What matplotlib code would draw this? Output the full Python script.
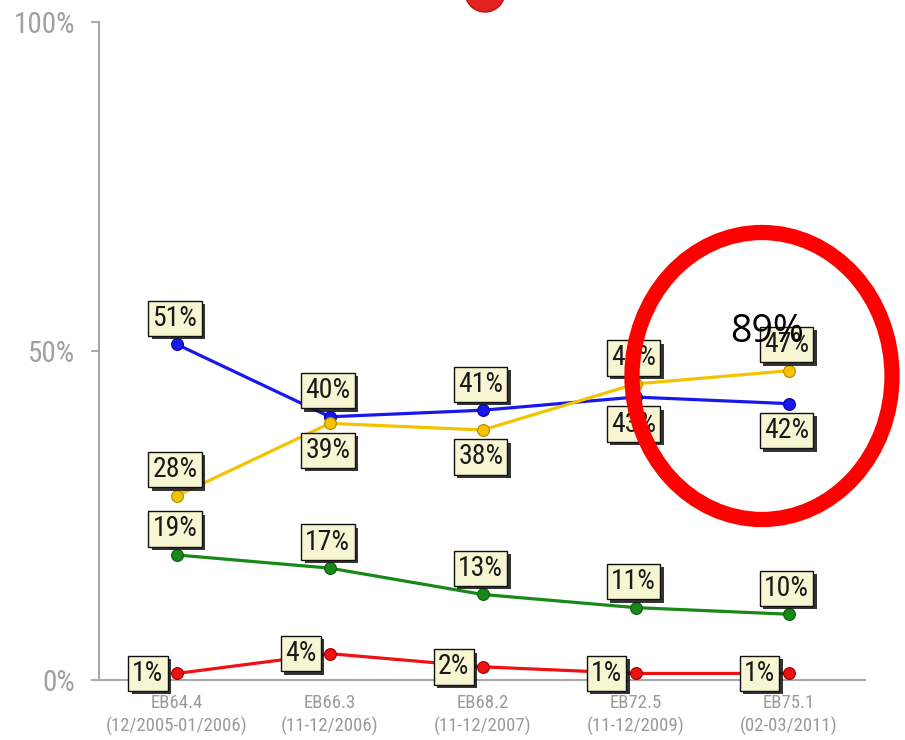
import matplotlib
matplotlib.use("Agg")
import matplotlib.pyplot as plt
from matplotlib.patches import Ellipse
import matplotlib.patheffects as pe
from matplotlib import font_manager as fm

categories = ["EB64.4\n(12/2005-01/2006)", "EB66.3\n(11-12/2006)", "EB68.2\n(11-12/2007)",
              "EB72.5\n(11-12/2009)", "EB75.1\n(02-03/2011)"]
blue = [51, 40, 41, 43, 42]
yellow = [28, 39, 38, 45, 47]
green = [19, 17, 13, 11, 10]
red = [1, 4, 2, 1, 1]
y_ticks = [0, 50, 100]
y_tick_labels = ["0%", "50%", "100%"]
highlight_text = "89%"

available = {f.name for f in fm.fontManager.ttflist}
cands = ["Liberation Sans Narrow", "Roboto Condensed", "DejaVu Sans Condensed",
         "Open Sans Condensed", "Liberation Sans"]
COND = [c for c in cands if c in available] + ["DejaVu Sans"]
narrow = COND[0] in ("Liberation Sans Narrow", "Roboto Condensed")
lab_fs = 20 if narrow else 16
tick_fs = 21 if narrow else 16
xt_fs = 13.5 if narrow else 12

fig = plt.figure(figsize=(9.05, 7.4), dpi=100)
ax = fig.add_axes([99 / 905, 1 - 680 / 740, 766 / 905, 658 / 740])
x = list(range(len(categories)))

series = [
    (blue, "#1818ee", "#0000a0", ["a", "a", "a", "b", "b"]),
    (yellow, "#f5c200", "#b08a00", ["a", "b", "b", "a", "a"]),
    (green, "#188818", "#0a5a0a", ["a"] * 5),
    (red, "#ee1111", "#a00000", ["l"] * 5),
]

px = 0.72  # points per pixel at dpi 100
for vals, col, edge, places in series:
    ax.plot(x, vals, color=col, lw=2.3, zorder=3, solid_capstyle="round")
    ax.plot(x, vals, ls="none", marker="o", ms=8.5, mfc=col, mec=edge, mew=0.8, zorder=4)
    for xi, v, p in zip(x, vals, places):
        if p == "a":
            off = (-2 * px, 26 * px)
        elif p == "b":
            off = (-2 * px, -27 * px)
        else:
            off = (-29 * px, 0)
        t = ax.annotate(f"{v}%", (xi, v), xytext=off, textcoords="offset points",
                        ha="center", va="center", fontsize=lab_fs, family=COND, color="#1a1a1a",
                        zorder=6,
                        bbox=dict(boxstyle="square,pad=0.15", fc="#f7f5d2", ec="#111111", lw=1.0))
        t.get_bbox_patch().set_path_effects(
            [pe.SimplePatchShadow(offset=(2.4, -2.4), shadow_rgbFace="#111111", alpha=0.85),
             pe.Normal()])

ax.set_xlim(-0.51, 4.5)
ax.set_ylim(0, 100)
ax.set_yticks(y_ticks)
ax.set_yticklabels(y_tick_labels, family=COND, fontsize=tick_fs, color="#a0a0a0")
ax.set_xticks(x)
ax.set_xticklabels(categories, family=COND, fontsize=xt_fs, color="#9a9a9a", linespacing=1.3)
ax.tick_params(axis="x", length=0, pad=10)
ax.tick_params(axis="y", length=6, width=1.2, color="#999999", pad=11, direction="out")
for s in ["top", "right"]:
    ax.spines[s].set_visible(False)
for s in ["left", "bottom"]:
    ax.spines[s].set_color("#a8a8a8")
    ax.spines[s].set_linewidth(1.5)
ax.set_facecolor("none")

# decorative red ball at top (cut off)
fig.add_artist(Ellipse((485 / 905, 1 + 8 / 740), 40 / 905, 40 / 740, transform=fig.transFigure,
                       fc="#e52222", ec="#c01010", lw=1, clip_on=False, zorder=10))
# highlight circle
fig.add_artist(Ellipse((762 / 905, 1 - 376 / 740), 260 / 905, 287 / 740, transform=fig.transFigure,
                       fc="none", ec="#ff0000", lw=11, zorder=10))
fig.text(767 / 905, 1 - 332 / 740, highlight_text, ha="center", va="center", fontsize=27,
         family=["Open Sans", "DejaVu Sans"], color="black", zorder=11)

fig.savefig("out.png", dpi=100)
